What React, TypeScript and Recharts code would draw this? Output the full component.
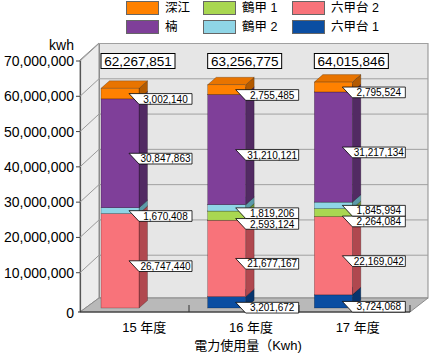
import React from 'react';
import { BarChart, Bar, XAxis, YAxis, CartesianGrid, Legend, LabelList } from 'recharts';

// 電力使用量 (kWh) by campus, 15〜17 年度
const categories = ['15 年度', '16 年度', '17 年度'];
const rokkodai1 = [0, 3201672, 3724068];
const rokkodai2 = [26747440, 21677167, 22169042];
const tsurukabuto1 = [0, 2593124, 2264084];
const tsurukabuto2 = [1670408, 1819206, 1845994];
const kusunoki = [30847863, 31210121, 31217134];
const fukae = [3002140, 2755485, 2795524];
const totals = [62267851, 63256775, 64015846];
const yTicks = [0, 10000000, 20000000, 30000000, 40000000, 50000000, 60000000, 70000000];

// stack order, bottom to top
const series = [
  { key: 'r1', name: '六甲台 1', values: rokkodai1, color: '#0b4ea2', side: '#08356e', top: '#0a4590' },
  { key: 'r2', name: '六甲台 2', values: rokkodai2, color: '#f8737a', side: '#b0484f', top: '#e0626a' },
  { key: 't1', name: '鶴甲 1', values: tsurukabuto1, color: '#a9d751', side: '#6f9636', top: '#98c548' },
  { key: 't2', name: '鶴甲 2', values: tsurukabuto2, color: '#8fd5e6', side: '#5b9aa8', top: '#7fc3d4' },
  { key: 'ku', name: '楠', values: kusunoki, color: '#7f3f99', side: '#522a63', top: '#6d3584' },
  { key: 'fu', name: '深江', values: fukae, color: '#ff8100', side: '#b35a00', top: '#e87400' },
];
const legendOrder = ['深江', '鶴甲 1', '六甲台 2', '楠', '鶴甲 2', '六甲台 1'];

const data = categories.map((name, i) => {
  const row: any = { name, total: totals[i] };
  series.forEach(s => { row[s.key] = s.values[i]; });
  return row;
});

const FONT = '"Liberation Sans", Arial, "Noto Sans CJK JP", sans-serif';
const DX = 8.5;   // bar depth
const DY = 7.5;
const WX = 19;    // wall depth
const WY = 17.5;
const BOX_H = 10.7;
const BOX_W = 63;
const SLANT = 10;
const TIP = 28;

const fmt = (v: number) => Number(v).toLocaleString('en-US');

const pickBox = (p: any) => {
  const v = p.viewBox && typeof p.viewBox.width === 'number' ? p.viewBox : p;
  return { x: Number(v.x), y: Number(v.y), width: Number(v.width), height: Number(v.height) };
};

const box3d = (side: string, top: string) => (props: any) => {
  const { x, y, width, height, fill } = props;
  if (!height || height <= 0) return <g />;
  const r = x + width;
  const b = y + height;
  return (
    <g>
      <polygon points={`${r},${y} ${r + DX},${y - DY} ${r + DX},${b - DY} ${r},${b}`} fill={side} stroke="rgba(0,0,0,0.45)" strokeWidth={0.5} />
      <polygon points={`${x},${y} ${r},${y} ${r + DX},${y - DY} ${x + DX},${y - DY}`} fill={top} stroke="rgba(0,0,0,0.45)" strokeWidth={0.5} />
      <rect x={x} y={y} width={width} height={height} fill={fill} stroke="rgba(0,0,0,0.45)" strokeWidth={0.5} />
    </g>
  );
};

const callout = (sIdx: number) => (props: any) => {
  const value = Number(props.value);
  if (!value) return <g />;
  const { x, y, height } = pickBox(props);
  const i = series[sIdx].values.indexOf(value);
  const k = height / value;
  let top = y + height / 2;
  // keep clear of the label of the next segment up
  for (let u = sIdx + 1; u < series.length && i >= 0; u++) {
    const v = series[u].values[i];
    if (v > 0) {
      top = Math.max(top, y - (v * k) / 2 + BOX_H);
      break;
    }
  }
  const tip = x + TIP;
  return (
    <g>
      <polygon
        points={`${tip},${top} ${tip + BOX_W},${top} ${tip + BOX_W},${top + BOX_H} ${tip + SLANT},${top + BOX_H}`}
        fill="#fff" stroke="#000" strokeWidth={0.8}
      />
      <text x={tip + (SLANT + BOX_W) / 2} y={top + 9} textAnchor="middle" fontSize={10} fill="#000" fontFamily={FONT}>
        {fmt(value)}
      </text>
    </g>
  );
};

const TotalLabel = (props: any) => {
  const { x, width } = pickBox(props);
  const cx = x + width / 2 + 18;
  return (
    <g>
      <rect x={cx - 37} y={53.5} width={74} height={15} fill="#fff" stroke="#000" strokeWidth={1} />
      <text x={cx} y={65.5} textAnchor="middle" fontSize={13.5} fill="#000" fontFamily={FONT}>{fmt(props.value)}</text>
    </g>
  );
};

const YTick = (props: any) => {
  const { x, y, payload } = props;
  const isZero = payload.value === 0;
  return (
    <g>
      <text x={x + 7} y={y + (isZero ? 5 : 0)} dy={5} textAnchor="end" fontSize={14} fill="#000" fontFamily={FONT}>
        {fmt(payload.value)}
      </text>
      {!isZero && <line x1={x + 9} x2={x + 13} y1={y} y2={y} stroke="#444" />}
    </g>
  );
};

const XTick = (props: any) => {
  const { x, y, payload } = props;
  return (
    <text x={x + 24} y={y + 24} textAnchor="middle" fontSize={13} fill="#000" fontFamily={FONT}>
      {payload.value}
    </text>
  );
};

// back-wall grid line with its diagonal on the left side panel
const gridLine = (props: any) => {
  const { y1, index } = props;
  if (y1 > 300) return <g key={`g${index}`} />;
  const yb = y1 - WY;
  return (
    <g key={`g${index}`}>
      <line x1={80} y1={y1} x2={80 + WX} y2={yb} stroke="#999" strokeWidth={1} />
      <line x1={80 + WX} y1={yb} x2={428} y2={yb} stroke="#a0a0a0" strokeWidth={1} />
    </g>
  );
};

const LegendContent = () => {
  const colX = [126, 203, 292];
  return (
    <div style={{ position: 'relative', width: 430, height: 40 }}>
      {legendOrder.map((n, i) => {
        const s = series.find(d => d.name === n)!;
        return (
          <div key={n} style={{ position: 'absolute', left: colX[i % 3], top: 1 + Math.floor(i / 3) * 19, display: 'flex', alignItems: 'center', height: 14 }}>
            <span style={{ display: 'inline-block', width: 31, height: 12, background: s.color, border: '1px solid #666' }} />
            <span style={{ marginLeft: 6, fontSize: 12.5, color: '#000', lineHeight: '14px' }}>{n}</span>
          </div>
        );
      })}
    </div>
  );
};

export default function App() {
  return (
    <div style={{ position: 'absolute', left: 0, top: 0, width: 430, height: 355, fontFamily: FONT, background: '#fff' }}>
      <svg width={430} height={355} style={{ position: 'absolute', left: 0, top: 0 }}>
        <polygon points="80,60 99,43 99,298 80,312" fill="#ececec" stroke="#8c8c8c" strokeWidth={1} />
        <rect x={99.5} y={43.5} width={328.5} height={254.5} fill="#e6e6e6" stroke="#8c8c8c" strokeWidth={1} />
        <polygon points="80,312 99,298 428,298 410,312" fill="#b9b9b9" stroke="#8c8c8c" strokeWidth={1} />
        <line x1={80.5} y1={60} x2={80.5} y2={312} stroke="#555" strokeWidth={1.2} />
        <line x1={78} y1={312} x2={410} y2={312} stroke="#222" strokeWidth={1.2} />
        {[189, 299, 410].map(x => (
          <line key={x} x1={x} y1={305} x2={x} y2={312} stroke="#333" />
        ))}
      </svg>
      <div style={{ position: 'absolute', left: 0, top: 0 }}>
        <BarChart width={430} height={355} data={data} margin={{ top: 21, right: 43, bottom: 0, left: 0 }} barSize={38}>
          <CartesianGrid vertical={false} horizontal={gridLine} horizontalValues={yTicks.slice(1)} />
          <Legend verticalAlign="top" content={LegendContent} wrapperStyle={{ top: 0, left: 0, width: 430, height: 40, margin: 0 }} />
          <XAxis
            dataKey="name" height={47} axisLine={false} tickLine={false} tickSize={0} tickMargin={0} tick={XTick} interval={0}
            label={{ value: '電力使用量（Kwh)', content: (p: any) => (
              <text x={p.viewBox.x + p.viewBox.width / 2 + 21} y={p.viewBox.y + 42} textAnchor="middle" fontSize={13} fill="#000" fontFamily={FONT}>
                電力使用量（Kwh)
              </text>
            ) }}
          />
          <YAxis
            width={67} domain={[0, 70000000]} ticks={yTicks} interval={0} axisLine={false} tickLine={false} tickSize={0} tickMargin={0} tick={YTick}
            label={{ value: 'kwh', content: (p: any) => (
              <text x={p.viewBox.x + p.viewBox.width + 7} y={p.viewBox.y - 11} textAnchor="end" fontSize={14} fill="#000" fontFamily={FONT}>
                kwh
              </text>
            ) }}
          />
          {series.map((s, idx) => (
            <Bar key={s.key} dataKey={s.key} name={s.name} stackId="a" fill={s.color} shape={box3d(s.side, s.top)} isAnimationActive={false}>
              <LabelList dataKey={s.key} content={callout(idx)} />
              {s.key === 'fu' && <LabelList dataKey="total" content={TotalLabel} />}
            </Bar>
          ))}
        </BarChart>
      </div>
    </div>
  );
}
